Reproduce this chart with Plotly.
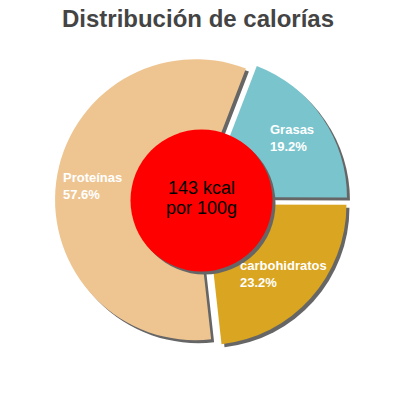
import math
import plotly.graph_objects as go

# data
labels = ["Grasas", "carbohidratos", "Proteínas"]
values = [19.2, 23.2, 57.6]
colors = ["#7AC5CD", "#DAA520", "#EEC591"]
kcal = 143
title = "Distribución de calorías"

W, H = 400, 400
cx, cy = 201.5, 200.5   # pie centre, px from top-left
R = 140.5               # pie radius, px
pull_px = 6
rot = 21                # first slice starts 21 deg clockwise from 12 o'clock
shadow = 3              # shadow offset, px
font = "Liberation Sans, Arial, sans-serif"

pull = pull_px / R
half = R * (1 + pull)


def dom(dx=0, dy=0):
    return dict(x=[(cx + dx - half) / W, (cx + dx + half) / W],
                y=[(H - cy - dy - half) / H, (H - cy - dy + half) / H])


pie_args = dict(values=values, labels=labels, sort=False, direction="clockwise",
                rotation=rot, pull=pull, textinfo="none", hoverinfo="skip",
                showlegend=False)

fig = go.Figure()
# shadow pie
fig.add_trace(go.Pie(domain=dom(shadow, shadow), marker=dict(colors=["#666666"] * 3,
                     line=dict(width=0)), **pie_args))
fig.add_trace(go.Pie(domain=dom(), marker=dict(colors=colors, line=dict(width=0)), **pie_args))

# slice labels along the bisector of each slice
total = sum(values)
cum = 0
annotations = []
for lab, v in zip(labels, values):
    a = math.radians(rot + (cum + v / 2) / total * 360)
    cum += v
    rl = 0.74 * R + pull_px
    px = cx + rl * math.sin(a)
    py = cy - rl * math.cos(a)
    annotations.append(dict(x=px / W, y=1 - py / H, xref="paper", yref="paper",
                            text=f"{lab}<br>{v:.1f}%", showarrow=False, align="left",
                            xanchor="center", yanchor="middle",
                            font=dict(family=font, size=13, color="white", weight="bold")))

# centre disc
rc = 71
shapes = [
    dict(type="circle", xref="paper", yref="paper", layer="above",
         x0=(cx - rc + shadow) / W, x1=(cx + rc + shadow) / W,
         y0=1 - (cy + rc + shadow) / H, y1=1 - (cy - rc + shadow) / H,
         fillcolor="#666666", line=dict(width=0)),
    dict(type="circle", xref="paper", yref="paper", layer="above",
         x0=(cx - rc) / W, x1=(cx + rc) / W,
         y0=1 - (cy + rc) / H, y1=1 - (cy - rc) / H,
         fillcolor="#FF0000", line=dict(width=0)),
]
annotations.append(dict(x=cx / W, y=1 - 188 / H, xref="paper", yref="paper",
                        text=f"{kcal} kcal", showarrow=False, yanchor="middle",
                        font=dict(family=font, size=18, color="black")))
annotations.append(dict(x=cx / W, y=1 - 208 / H, xref="paper", yref="paper",
                        text="por 100g", showarrow=False, yanchor="middle",
                        font=dict(family=font, size=18, color="black")))

fig.update_layout(
    width=W, height=H,
    margin=dict(l=0, r=0, t=0, b=0),
    paper_bgcolor="white", plot_bgcolor="white",
    title=dict(text=f"<b>{title}</b>", x=198 / W, xanchor="center",
               y=1 - 19 / H, yanchor="middle", yref="container",
               font=dict(family=font, size=24, color="#444444")),
    shapes=shapes,
    annotations=annotations,
)

# drop the default 8px page margin so the figure sits at the window corner
fig.write_html("out.html", config={"displayModeBar": False},
               post_script="document.body.style.margin='0';")
